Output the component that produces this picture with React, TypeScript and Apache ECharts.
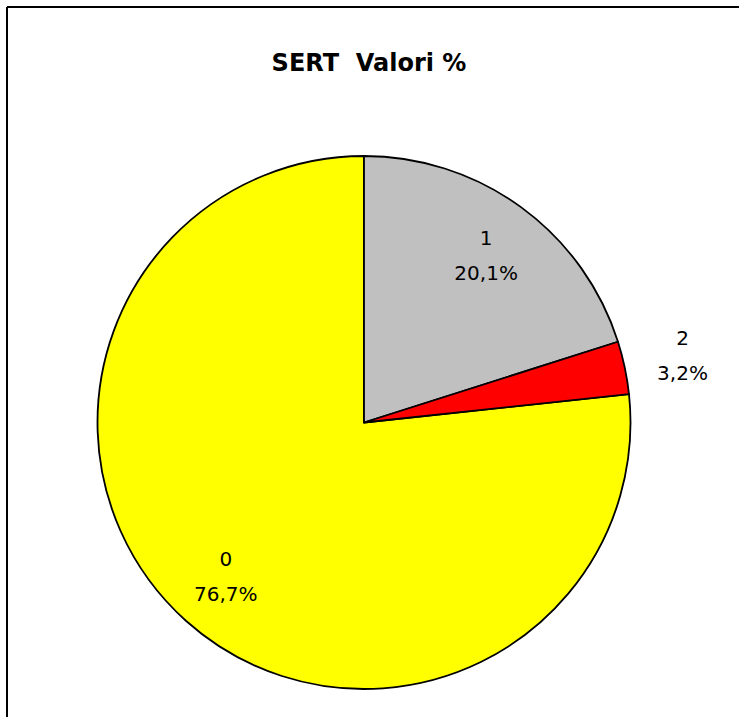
import React, { useEffect, useRef } from "react";
import * as echarts from "echarts";

const categories = ["0", "1", "2"];
const values = [76.7, 20.1, 3.2];
const colors = ["#FFFF00", "#C0C0C0", "#FF0000"];
const titleText = "SERT  Valori %";
const insideLabelIdx = [0, 1];
const outsideLabelIdx = [2];

const FONT = "'Comic Sans MS', 'DejaVu Sans', sans-serif";

export default function App() {
  const ref = useRef<HTMLDivElement>(null);
  useEffect(() => {
    if (!ref.current) return;
    const chart = echarts.init(ref.current, undefined, { renderer: "svg" });
    const total = values.reduce((a, b) => a + b, 0);
    const startAngle = 90 + (360 * values[0]) / total;
    const R = 266.5;
    const center = [364, 422.5];
    const fmt = (p: any) =>
      p.name + "\n" + Number(p.value).toFixed(1).replace(".", ",") + "%";
    const labelStyle = {
      position: "inside",
      formatter: fmt,
      color: "#000",
      fontFamily: FONT,
      fontSize: 20,
      lineHeight: 35,
      align: "center",
    };
    const labelSeries = (idx: number[], r0: number, r1: number) => ({
      type: "pie",
      center,
      radius: [r0, r1],
      startAngle,
      clockwise: true,
      silent: true,
      z: 5,
      labelLine: { show: false },
      emphasis: { disabled: true },
      itemStyle: { color: "transparent", borderWidth: 0 },
      data: categories.map((c, i) => ({
        name: c,
        value: values[i],
        label: { show: idx.includes(i), ...labelStyle },
      })),
    });
    chart.setOption({
      animation: false,
      backgroundColor: "#fff",
      title: {
        text: titleText,
        left: 364,
        textAlign: "center",
        top: 46,
        textStyle: {
          fontFamily: FONT,
          fontWeight: "bold",
          fontSize: 24,
          color: "#000",
        },
      },
      graphic: [
        {
          type: "line",
          shape: { x1: 7, y1: 7, x2: 739, y2: 7 },
          style: { stroke: "#000", lineWidth: 2 },
        },
        {
          type: "line",
          shape: { x1: 7, y1: 7, x2: 7, y2: 717 },
          style: { stroke: "#000", lineWidth: 2 },
        },
      ],
      series: [
        {
          type: "pie",
          center,
          radius: R,
          startAngle,
          clockwise: true,
          silent: true,
          label: { show: false },
          labelLine: { show: false },
          emphasis: { disabled: true },
          itemStyle: { borderColor: "#000", borderWidth: 1.8 },
          data: categories.map((c, i) => ({
            name: c,
            value: values[i],
            itemStyle: { color: colors[i] },
          })),
        },
        labelSeries(insideLabelIdx, R * 0.66, R * 0.87),
        labelSeries(outsideLabelIdx, R * 1.1, R * 1.32),
      ],
    });
    return () => chart.dispose();
  }, []);
  return (
    <div
      ref={ref}
      style={{ position: "absolute", left: 0, top: 0, width: 739, height: 717 }}
    />
  );
}
